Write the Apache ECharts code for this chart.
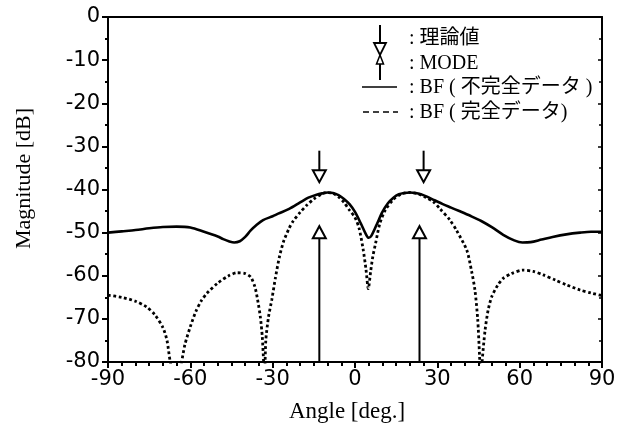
<!DOCTYPE html>
<html>
<head>
<meta charset="utf-8">
<script src="https://cdn.jsdelivr.net/npm/echarts@6/dist/echarts.min.js"></script>
<style>
html,body{margin:0;padding:0;background:#fff;}
#chart{width:619px;height:435px;}
</style>
</head>
<body>
<div id="chart"></div>
<script>
// ---- data ----
var xTicks = [-90, -60, -30, 0, 30, 60, 90];
var yTicks = [0, -10, -20, -30, -40, -50, -60, -70, -80];

// BF (incomplete data) - solid
var bfIncompleteAngle = [-90,-85,-80,-75,-70,-65,-60,-55,-50,-48,-46,-44,-42,-40,-38,-36,-33.5,-30,-28,-24,-20,-17,-14,-12,-10,-8,-6,-4,-2,0,2,4,5,6,8,10,12,14,16,18,20,22,24,26,29,32,35,38,42,46,50,54,58,61,64,68,72,77,82,86,90];
var bfIncompleteMag   = [-50,-49.7,-49.4,-49.0,-48.7,-48.6,-48.8,-49.8,-50.9,-51.5,-52.0,-52.3,-52.0,-51.0,-49.5,-48.3,-47.1,-46.2,-45.6,-44.5,-43.0,-41.9,-41.2,-40.9,-40.7,-40.8,-41.3,-42.2,-43.4,-45.2,-47.7,-50.4,-51.2,-50.7,-48.0,-45.2,-43.2,-41.9,-41.1,-40.8,-40.7,-40.8,-41.1,-41.6,-42.5,-43.4,-44.2,-45.0,-46.1,-47.3,-48.8,-50.5,-51.8,-52.3,-52.2,-51.6,-51.0,-50.4,-50.0,-49.8,-49.8];

// BF (complete data) - dotted
var bfCompleteAngle = [-90,-85,-80,-76,-73,-70,-68.5,-67.3,-65.2,-63.2,-62,-60,-58,-56,-54,-50,-46,-43,-40,-38,-36.5,-35.5,-34.5,-33.8,-33.3,-33,-32.5,-31.5,-30.3,-29,-27.5,-26,-24,-22.5,-20,-17.5,-15,-12,-10,-8,-6,-4,-2,0,1.5,3,4,4.85,5.7,6.5,7.5,9,11,14,17,20,23,26,28.5,31,34.6,37,40.7,42.5,43.7,44.7,45.4,45.8,46.3,47.4,48.5,49.8,52,54,57,61,65,68.6,73,77,82,86,90];
var bfCompleteMag   = [-64.5,-65.0,-65.9,-67.2,-69.0,-72.0,-75.0,-80,-85,-80,-76,-71.8,-68.3,-65.8,-64.1,-61.7,-60.0,-59.3,-59.5,-60.3,-62.5,-65.5,-69.5,-74,-80,-85,-75,-69.5,-65.5,-60.5,-55.5,-52.0,-49.0,-47.3,-45.3,-43.6,-42.2,-41.0,-40.7,-40.9,-41.7,-43.0,-44.8,-46.5,-49.0,-54.0,-58.5,-63.0,-59.0,-55.5,-52.5,-48.0,-44.8,-42.3,-41.0,-40.7,-41.0,-41.9,-42.8,-44.5,-47.1,-49.5,-54.0,-59.0,-63.3,-70.0,-78.8,-85,-80,-72.6,-68.0,-64.9,-62.2,-60.6,-59.5,-58.7,-59.0,-59.8,-61.0,-62.1,-63.3,-64.0,-64.6];

// theoretical directions (down arrows) and MODE estimates (up arrows)
var theoryAngle = [-13, 25];
var theoryFrom = -31;
var theoryTo = -38.3;
var modeAngle = [-13, 23.5];
var modeFrom = -80;
var modeTo = -48.5;

function pairs(a, b) { return a.map(function (v, i) { return [v, b[i]]; }); }

var chart = echarts.init(document.getElementById('chart'), null, {renderer: 'canvas'});

var tickFont = 'DejaVu Sans';
var serif = '"Liberation Serif", "Noto Sans CJK JP", serif';

function arrowRender(params, api) {
  var x = api.value(0), y0 = api.value(1), y1 = api.value(2);
  var p0 = api.coord([x, y0]);
  var p1 = api.coord([x, y1]);
  var dir = p1[1] > p0[1] ? 1 : -1; // 1 = pointing down
  var headH = 12, headW = 6.5;
  var base = p1[1] - dir * headH;
  return {
    type: 'group',
    children: [
      {type: 'line', shape: {x1: p0[0], y1: p0[1], x2: p0[0], y2: base},
       style: {stroke: '#000', lineWidth: 2}},
      {type: 'polygon', shape: {points: [[p1[0] - headW, base], [p1[0] + headW, base], [p1[0], p1[1]]]},
       style: {fill: '#fff', stroke: '#000', lineWidth: 2}}
    ]
  };
}

var arrowData = [];
theoryAngle.forEach(function (a) { arrowData.push([a, theoryFrom, theoryTo]); });
var modeData = [];
modeAngle.forEach(function (a) { modeData.push([a, modeFrom, modeTo]); });

var option = {
  backgroundColor: '#fff',
  animation: false,
  grid: {left: 108, right: 17, top: 17, bottom: 73, containLabel: false},
  xAxis: [{
    type: 'value', min: -90, max: 90, interval: 30,
    name: 'Angle [deg.]', nameLocation: 'middle', nameGap: 38,
    nameTextStyle: {fontFamily: serif, fontSize: 23, color: '#000', padding: [0, 16, 0, 0]},
    axisLine: {onZero: false, lineStyle: {color: '#000', width: 2}},
    axisTick: {show: true, inside: false, length: 6, lineStyle: {color: '#000', width: 2}},
    minorTick: {show: true, splitNumber: 6, length: 4, lineStyle: {color: '#000', width: 2}},
    splitLine: {show: false},
    axisLabel: {fontFamily: tickFont, fontSize: 21, color: '#000', margin: 7,
      formatter: function (v) { return xTicks.indexOf(v) >= 0 ? String(v) : ''; }}
  }, {
    type: 'value', min: -90, max: 90, position: 'top',
    axisLine: {onZero: false, lineStyle: {color: '#000', width: 2}},
    axisTick: {show: false}, axisLabel: {show: false}, splitLine: {show: false}
  }],
  yAxis: [{
    type: 'value', min: -80, max: 0, interval: 10,
    name: 'Magnitude [dB]', nameLocation: 'middle', nameGap: 73,
    nameTextStyle: {fontFamily: serif, fontSize: 22, color: '#000', padding: [0, 0, 0, 22]},
    axisLine: {onZero: false, lineStyle: {color: '#000', width: 2}},
    axisTick: {show: true, inside: false, length: 6, lineStyle: {color: '#000', width: 2}},
    minorTick: {show: true, splitNumber: 2, length: 3, lineStyle: {color: '#000', width: 2}},
    splitLine: {show: false},
    axisLabel: {fontFamily: tickFont, fontSize: 21, color: '#000', margin: 8,
      formatter: function (v) { return yTicks.indexOf(v) >= 0 ? String(v) : ''; }}
  }, {
    type: 'value', min: -80, max: 0, interval: 10, position: 'right',
    axisLine: {onZero: false, lineStyle: {color: '#000', width: 2}},
    axisTick: {show: true, inside: true, length: 4, lineStyle: {color: '#000', width: 1.5}},
    minorTick: {show: true, splitNumber: 2, length: 3, lineStyle: {color: '#000', width: 1.5}},
    axisLabel: {show: false}, splitLine: {show: false}
  }],
  series: [
    {
      name: 'BF(完全データ)', type: 'line', data: pairs(bfCompleteAngle, bfCompleteMag),
      showSymbol: false, smooth: 0.25, clip: true,
      lineStyle: {color: '#000', width: 2.8, type: [2.8, 2.6]}
    },
    {
      name: 'BF(不完全データ)', type: 'line', data: pairs(bfIncompleteAngle, bfIncompleteMag),
      showSymbol: false, smooth: 0.3, clip: true,
      lineStyle: {color: '#000', width: 2.6}
    },
    {
      name: '理論値', type: 'custom', renderItem: arrowRender, data: arrowData,
      encode: {x: 0, y: [1, 2]}, clip: false, z: 5
    },
    {
      name: 'MODE', type: 'custom', renderItem: arrowRender, data: modeData,
      encode: {x: 0, y: [1, 2]}, clip: false, z: 5
    }
  ],
  graphic: [
    // legend icons
    {type: 'line', shape: {x1: 380, y1: 25, x2: 380, y2: 80}, style: {stroke: '#000', lineWidth: 2}},
    {type: 'polygon', shape: {points: [[374, 43], [386, 43], [380, 55]]}, style: {fill: '#fff', stroke: '#000', lineWidth: 1.8}},
    {type: 'polygon', shape: {points: [[376.5, 64], [383.5, 64], [380, 55]]}, style: {fill: '#fff', stroke: '#000', lineWidth: 1.5}},
    {type: 'line', shape: {x1: 362, y1: 87, x2: 397, y2: 87}, style: {stroke: '#000', lineWidth: 1.5}},
    {type: 'line', shape: {x1: 363, y1: 112, x2: 398, y2: 112}, style: {stroke: '#000', lineWidth: 1.5, lineDash: [6, 4]}},
    // legend texts
    {type: 'text', x: 409, y: 39, style: {text: ': 理論値', fontFamily: serif, fontSize: 20, fill: '#000', verticalAlign: 'middle'}},
    {type: 'text', x: 409, y: 64, style: {text: ': MODE', fontFamily: serif, fontSize: 20, fill: '#000', verticalAlign: 'middle'}},
    {type: 'text', x: 409, y: 88, style: {text: ': BF ( 不完全データ )', fontFamily: serif, fontSize: 20, fill: '#000', verticalAlign: 'middle'}},
    {type: 'text', x: 409, y: 113, style: {text: ': BF ( 完全データ)', fontFamily: serif, fontSize: 20, fill: '#000', verticalAlign: 'middle'}}
  ]
};
chart.setOption(option);
</script>
</body>
</html>
